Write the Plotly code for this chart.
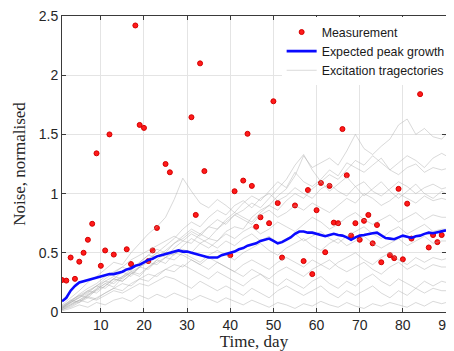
import plotly.graph_objects as go

# ---------------- data ----------------
meas_day = [1, 2, 3, 4, 5, 6, 7, 8, 9, 10, 11, 12, 13, 16, 17, 18, 19, 20, 21, 22, 23, 25, 26,
            31, 32, 33, 34, 40, 41, 43, 44, 45, 46, 47, 49, 50, 51, 52, 55, 57, 58, 59, 60,
            61, 62, 63, 64, 65, 66, 67, 68, 69, 70, 71, 72, 73, 74, 75, 77, 78, 79, 80, 81,
            82, 84, 86, 87, 88, 89]
meas_val = [0.27, 0.265, 0.46, 0.28, 0.425, 0.50, 0.61, 0.745, 1.34, 0.39, 0.52, 1.50, 0.485,
            0.53, 0.405, 2.42, 1.58, 1.555, 0.43, 0.52, 0.71, 1.25, 1.18,
            1.645, 0.82, 2.10, 1.19, 0.48, 1.02, 1.11, 1.505, 1.065, 0.72, 0.80, 0.75, 1.78,
            0.92, 0.46, 0.90, 0.43, 1.03, 0.32, 0.86,
            1.09, 0.505, 1.065, 0.755, 0.75, 1.545, 1.155, 0.645, 0.75, 0.61, 0.77, 0.82,
            0.58, 0.735, 0.42, 0.48, 0.455, 1.04, 0.445, 0.915,
            0.62, 1.84, 0.545, 0.65, 0.59, 0.65]

peak_day = list(range(1, 91))
peak_val = [0.09, 0.12, 0.18, 0.22, 0.25, 0.26, 0.27, 0.28, 0.29, 0.30,
            0.31, 0.32, 0.32, 0.33, 0.34, 0.36, 0.37, 0.39, 0.40, 0.42,
            0.44, 0.45, 0.47, 0.48, 0.49, 0.50, 0.51, 0.52, 0.51, 0.51,
            0.50, 0.49, 0.48, 0.47, 0.46, 0.46, 0.46, 0.48, 0.49, 0.50,
            0.51, 0.53, 0.54, 0.56, 0.57, 0.58, 0.60, 0.61, 0.62, 0.60,
            0.58, 0.59, 0.61, 0.63, 0.66, 0.68, 0.68, 0.67, 0.67, 0.66,
            0.65, 0.64, 0.65, 0.66, 0.65, 0.645, 0.63, 0.61, 0.63, 0.645,
            0.65, 0.66, 0.665, 0.67, 0.65, 0.625, 0.62, 0.615, 0.63, 0.645,
            0.635, 0.625, 0.64, 0.645, 0.66, 0.67, 0.665, 0.675, 0.685, 0.69]

traj_day = [1, 3, 5, 7, 9, 11, 13, 15, 17, 19, 21, 23, 25, 27, 29, 31, 33, 35, 37, 39, 41, 43,
            45, 47, 49, 51, 53, 55, 57, 59, 61, 63, 65, 67, 69, 71, 73, 75, 77, 79, 81, 83,
            85, 87, 89, 90]
traj_1 = [.04, .10, .14, .12, .19, .24, .21, .29, .33, .30, .38, .44, .41, .49, .53, .50, .58, .62,
          .60, .68, .72, .70, .80, .86, .90, .98, 1.04, 1.15, 1.32, 1.22, 1.26, 1.30, 1.24, 1.36,
          1.50, 1.38, 1.33, 1.40, 1.46, 1.58, 1.63, 1.50, 1.55, 1.48, 1.46, 1.50]
traj_2 = [.06, .12, .18, .25, .30, .36, .42, .40, .50, .58, .66, .72, .80, .95, 1.13, 1.02, .92,
          .88, .95, .90, .84, .92, .98, .94, 1.02, 1.10, 1.05, 1.18, 1.10, 1.06, 1.12, 1.20, 1.15,
          1.26, 1.22, 1.18, 1.24, 1.30, 1.20, 1.16, 1.22, 1.25, 1.18, 1.22, 1.20, 1.21]
traj_3 = [.03, .08, .12, .18, .16, .22, .28, .34, .30, .38, .45, .50, .56, .62, .70, .76, .72, .80,
          .86, .82, .90, .94, .88, .96, 1.0, .94, .98, 1.05, 1.0, .96, 1.04, 1.08, 1.02, .98, 1.06,
          1.1, 1.02, .98, 1.04, 1.1, 1.06, 1.0, 1.05, 1.08, 1.04, 1.05]
traj_4 = [.02, .06, .10, .14, .20, .26, .24, .30, .36, .42, .48, .46, .52, .58, .64, .70, .66, .62,
          .70, .76, .82, .78, .74, .82, .86, .80, .84, .90, .86, .92, .88, .84, .90, .96, .92, 1.0,
          .96, .90, .94, 1.0, .96, .92, .98, .94, .96, .95]
traj_5 = [.05, .10, .08, .14, .18, .22, .28, .26, .32, .38, .36, .44, .50, .48, .56, .62, .58, .54,
          .60, .66, .62, .68, .72, .66, .70, .76, .72, .68, .74, .80, .76, .70, .74, .80, .84, .78,
          .74, .78, .82, .76, .80, .84, .78, .82, .80, .80]
traj_6 = [.03, .09, .15, .20, .24, .30, .34, .38, .44, .48, .52, .56, .60, .64, .60, .66, .62, .58,
          .54, .60, .56, .62, .66, .60, .64, .58, .62, .66, .60, .64, .68, .62, .58, .64, .68, .72,
          .66, .62, .68, .72, .66, .70, .74, .68, .70, .70]
traj_7 = [.04, .08, .12, .16, .22, .20, .26, .30, .34, .32, .38, .42, .46, .44, .50, .46, .42, .48,
          .52, .48, .44, .50, .54, .58, .52, .48, .54, .58, .62, .56, .52, .58, .62, .56, .60, .64,
          .58, .54, .58, .62, .56, .60, .64, .58, .60, .60]
traj_8 = [.02, .05, .09, .13, .11, .16, .20, .24, .22, .28, .32, .30, .36, .40, .38, .44, .40, .36,
          .42, .38, .34, .40, .44, .40, .36, .42, .46, .42, .38, .44, .40, .36, .42, .46, .50, .44,
          .40, .46, .50, .44, .40, .46, .42, .46, .44, .45]
traj_9 = [.05, .09, .14, .18, .22, .26, .30, .28, .34, .38, .42, .40, .46, .50, .48, .44, .40, .46,
          .42, .38, .34, .30, .36, .32, .28, .34, .38, .34, .30, .36, .40, .44, .38, .34, .38, .42,
          .36, .32, .38, .42, .36, .40, .36, .40, .38, .38]
traj_10 = [.03, .06, .10, .08, .12, .16, .20, .18, .24, .28, .26, .32, .36, .34, .40, .36, .32, .28,
           .34, .30, .26, .22, .28, .32, .26, .22, .28, .24, .20, .26, .30, .24, .20, .26, .22, .28,
           .32, .26, .22, .28, .24, .20, .26, .22, .26, .25]
traj_11 = [.02, .04, .08, .12, .10, .14, .18, .16, .20, .24, .22, .26, .30, .28, .24, .20, .26, .22,
           .18, .22, .18, .14, .20, .16, .12, .18, .22, .18, .14, .18, .22, .16, .12, .18, .14, .18,
           .22, .16, .12, .18, .14, .20, .16, .20, .18, .18]
traj_12 = [.01, .03, .06, .04, .08, .06, .10, .12, .09, .14, .11, .15, .12, .16, .13, .10, .14, .11,
           .08, .12, .09, .06, .10, .07, .04, .08, .06, .03, .07, .05, .09, .06, .04, .08, .05, .03,
           .07, .05, .08, .06, .04, .08, .05, .09, .07, .08]
traj_13 = [.04, .08, .13, .17, .22, .28, .33, .38, .35, .42, .48, .53, .50, .58, .62, .68, .64, .72,
           .78, .74, .82, .86, .92, .88, .96, 1.04, 1.12, 1.24, 1.33, 1.20, 1.10, 1.02, 1.08, 1.14,
           1.06, .98, 1.04, 1.10, 1.02, .96, 1.02, 1.08, 1.00, .96, 1.02, 1.00]
traj_14 = [.03, .07, .10, .15, .19, .24, .28, .26, .32, .38, .44, .50, .46, .54, .60, .58, .66, .72,
           .70, .78, .84, .80, .76, .84, .90, .86, .94, 1.0, .96, 1.04, 1.10, 1.16, 1.12, 1.20,
           1.28, 1.24, 1.32, 1.26, 1.20, 1.26, 1.32, 1.28, 1.22, 1.30, 1.34, 1.32]
trajectories = [traj_1, traj_2, traj_3, traj_4, traj_5, traj_6, traj_7, traj_8, traj_9,
                traj_10, traj_11, traj_12, traj_13, traj_14]

x_ticks = [10, 20, 30, 40, 50, 60, 70, 80, 90]
y_ticks = [0, 0.5, 1, 1.5, 2, 2.5]
y_tick_text = ["0", "0.5", "1", "1.5", "2", "2.5"]

# ---------------- figure ----------------
fig = go.Figure()

fig.add_trace(go.Scatter(
    x=meas_day, y=meas_val, mode="markers", name="Measurement", legendrank=1,
    marker=dict(size=5, color="#ff1a1a", line=dict(color="#d40000", width=1)),
))

for i, tr in enumerate(trajectories):
    fig.add_trace(go.Scatter(
        x=traj_day, y=tr, mode="lines", name="Excitation tragectories",
        legendrank=3, showlegend=(i == 0), legendgroup="traj",
        line=dict(color="rgba(170,170,170,0.5)", width=0.9),
    ))

fig.add_trace(go.Scatter(
    x=peak_day, y=peak_val, mode="lines", name="Expected peak growth", legendrank=2,
    line=dict(color="#0a0aff", width=2.6),
))

axis_common = dict(
    showline=True, linecolor="#3a3a3a", linewidth=1, mirror="ticks",
    ticks="inside", ticklen=4, tickcolor="#3a3a3a",
    showgrid=True, gridcolor="#e4e4e4", gridwidth=1, zeroline=False,
    ticklabeloverflow="allow",
    tickfont=dict(family="Liberation Sans, Arial", size=14, color="#262626"),
)

fig.update_xaxes(
    range=[1, 90], tickvals=x_ticks,
    title=dict(text="Time, day", font=dict(family="Liberation Serif", size=17, color="#262626"),
               standoff=4),
    **axis_common,
)
fig.update_yaxes(
    range=[0, 2.5], tickvals=y_ticks, ticktext=y_tick_text,
    title=dict(text="Noise, normalised", font=dict(family="Liberation Serif", size=17, color="#262626"),
               standoff=8),
    **axis_common,
)

# the page body has an 8px default margin, so the figure is sized to fill the rest
fig.update_layout(
    width=446, height=343,
    margin=dict(l=54, r=0, t=5, b=39),
    plot_bgcolor="white", paper_bgcolor="white",
    legend=dict(
        x=0.572, y=0.995, xanchor="left", yanchor="top",
        bgcolor="white", borderwidth=0,
        font=dict(family="Liberation Sans, Arial", size=12.4, color="#1a1a1a"),
        tracegroupgap=0, itemwidth=30,
    ),
)

fig.write_html("out.html")
